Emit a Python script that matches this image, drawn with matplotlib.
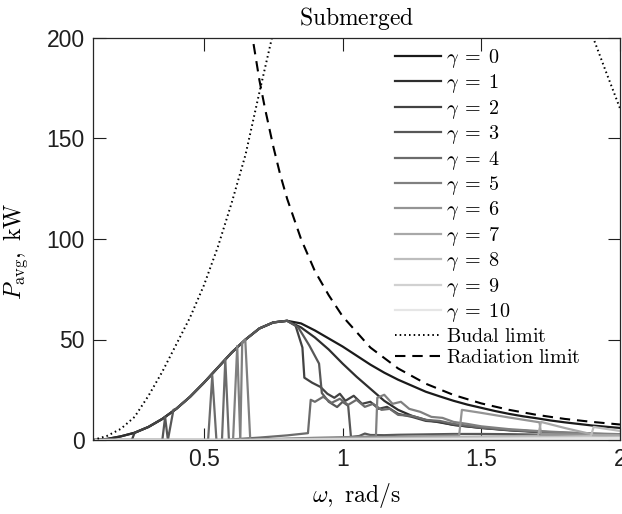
import numpy as np
import matplotlib
matplotlib.use('Agg')
import matplotlib.pyplot as plt

plt.rcParams['mathtext.fontset'] = 'cm'
plt.rcParams['font.family'] = ['Liberation Sans', 'DejaVu Sans']

# ---- data ----
omega_env = [0.10, 0.15, 0.20, 0.25, 0.30, 0.35, 0.40, 0.45, 0.50, 0.55, 0.60, 0.65,
             0.70, 0.75, 0.80, 0.85, 0.90, 0.95, 1.00, 1.05, 1.10, 1.15, 1.20, 1.25,
             1.30, 1.35, 1.40, 1.45, 1.50, 1.55, 1.60, 1.65, 1.70, 1.75, 1.80, 1.85,
             1.90, 1.95, 2.00]
p_gamma0 = [0.0, 0.5, 1.8, 3.6, 6.5, 10.5, 15.5, 21.5, 28.5, 36.0, 43.5, 50.0,
            55.5, 58.5, 59.3, 58.0, 54.5, 50.5, 46.5, 42.0, 37.5, 33.5, 30.0, 27.0,
            24.0, 21.7, 19.5, 17.6, 16.0, 14.4, 13.0, 11.8, 10.8, 9.7, 8.8, 8.0,
            7.2, 6.6, 6.0]

g1_w = [0.85, 0.90, 0.95, 1.00, 1.05, 1.10, 1.15, 1.20, 1.25, 1.30, 1.40, 1.50, 1.60,
        1.70, 1.80, 1.90, 2.00]
g1_p = [56, 51, 45, 38, 31.5, 25.5, 19.5, 15, 12, 10, 7.5, 6, 4.8, 4, 3.3, 2.8, 2.4]

g2_w = [0.83, 0.855, 0.862, 0.89, 0.92, 0.945, 0.97, 0.99, 1.01, 1.04, 1.07, 1.10,
        1.13, 1.16, 1.20, 1.25, 1.30, 1.35, 1.40, 1.50, 1.60, 1.70, 1.80, 1.90, 2.00]
g2_p = [57, 46, 31, 28.5, 26.4, 23, 21, 23, 19.5, 22, 18, 19, 15.5, 16.5, 13, 11.5,
        9.5, 9, 7.5, 6, 5, 4.2, 3.5, 3, 2.6]

g3_w = [0.84, 0.88, 0.915, 0.925, 0.95, 0.98, 1.00, 1.02, 1.03, 1.06, 1.08, 1.10,
        1.15, 1.20, 1.30, 1.40, 1.50, 1.60, 1.70, 1.80, 1.90, 2.00]
g3_p = [56, 47, 38, 23.4, 19, 16.4, 19, 17, 1.5, 2, 3.2, 2.5, 2.4, 2.6, 2.8, 3.0,
        3.0, 2.9, 2.7, 2.5, 2.3, 2.1]

g4_w = [0.10, 0.515, 0.53, 0.545, 0.565, 0.577, 0.59, 0.60, 0.70, 0.80, 0.875,
        0.885, 0.90, 0.93, 0.96, 0.99, 1.02, 1.05, 1.08, 1.11, 1.14, 1.17, 1.20,
        1.25, 1.30, 1.35, 1.40, 1.50, 1.60, 1.70, 1.80, 1.90, 2.00]
g4_p = [0, 0, 32, 0, 0, 40, 0, 0.3, 1.2, 2.3, 3.4, 20, 19, 21.5, 18.5, 20.5, 17.5,
        20, 16.5, 18, 15, 15.5, 12.5, 12, 10, 9.5, 8, 6.2, 5, 4.2, 3.6, 3.1, 2.7]

g5_w = [0.10, 0.605, 0.62, 0.631, 0.638, 0.649, 0.667, 0.70, 0.80, 0.90, 1.00, 1.10,
        1.12, 1.125, 1.15, 1.18, 1.21, 1.24, 1.28, 1.32, 1.36, 1.40, 1.45, 1.50,
        1.60, 1.70, 1.80, 1.90, 2.00]
g5_p = [0, 0, 46.8, 0, 48.5, 49.8, 0, 0.3, 0.7, 1.1, 1.4, 1.7, 1.8, 21, 22.5, 18,
        19, 15.5, 14, 11.5, 11, 9, 8, 6.8, 5.4, 4.5, 3.8, 3.3, 2.9]

g6_w = [0.10, 0.667, 0.80, 1.00, 1.20, 1.42, 1.43, 1.50, 1.60, 1.71, 1.715, 1.80,
        1.90, 2.00]
g6_p = [0, 0, 0.5, 1.0, 1.6, 2.2, 15, 13.5, 11.2, 8.8, 3.0, 2.8, 2.6, 2.4]

g7_w = [0.10, 0.667, 0.80, 1.00, 1.30, 1.60, 1.705, 1.715, 1.80, 1.90, 1.905, 2.00]
g7_p = [0, 0, 0.3, 0.7, 1.3, 1.9, 2.1, 9, 6, 2.8, 2.4, 2.2]

g8_w = [0.10, 0.667, 0.80, 1.00, 1.30, 1.60, 1.895, 1.905, 2.00]
g8_p = [0, 0, 0.2, 0.5, 1.0, 1.5, 1.9, 6.5, 4.5]

g9_w = [0.10, 0.667, 1.00, 1.50, 2.00]
g9_p = [0, 0, 0.3, 0.8, 1.3]

g10_w = [0.10, 0.667, 1.00, 1.50, 2.00]
g10_p = [0, 0, 0.2, 0.5, 0.9]

budal_left_w = [0.10, 0.125, 0.15, 0.20, 0.25, 0.30, 0.35, 0.40, 0.45, 0.50, 0.55,
                0.60, 0.65, 0.70, 0.75]
budal_left_p = [0, 1.0, 2.0, 5.5, 11.5, 22, 34, 47.5, 61, 77, 96, 118, 142, 173, 203]
budal_right_w = [1.89, 1.95, 2.00]
budal_right_p = [205, 183, 165]

rad_w = [0.66, 0.68, 0.70, 0.72, 0.75, 0.775, 0.80, 0.85, 0.90, 0.95, 1.00, 1.10,
         1.20, 1.30, 1.40, 1.50, 1.60, 1.70, 1.80, 1.90, 2.00]
rad_p = [214, 196, 179, 165, 146, 132, 120, 100, 84, 72, 61.5, 46, 35.6, 28, 22.4,
         18.2, 15, 12.5, 10.5, 9.0, 7.7]

gammas = list(range(11))


def env_part(lo, hi):
    pts = [(w, p) for w, p in zip(omega_env, p_gamma0) if lo - 1e-9 <= w <= hi + 1e-9]
    return [a for a, _ in pts], [b for _, b in pts]


curves = []
curves.append((omega_env, p_gamma0))
ew, ep = env_part(0.10, 0.80)
curves.append((ew + g1_w, ep + g1_p))
ew, ep = env_part(0.25, 0.80)
curves.append(([0.10, 0.24] + ew + g2_w, [0, 0] + ep + g2_p))
ew, ep = env_part(0.40, 0.80)
curves.append(([0.10, 0.35, 0.36, 0.37, 0.39] + ew + g3_w,
               [0, 0, 11.4, 0, 15] + ep + g3_p))
curves.append((g4_w, g4_p))
curves.append((g5_w, g5_p))
curves.append((g6_w, g6_p))
curves.append((g7_w, g7_p))
curves.append((g8_w, g8_p))
curves.append((g9_w, g9_p))
curves.append((g10_w, g10_p))

greys = np.linspace(0.1, 0.9, len(gammas))

fig = plt.figure(figsize=(6.22, 5.14), dpi=100)
ax = fig.add_axes([93 / 622, 74 / 514, 527 / 622, 402 / 514])

for g, (w, p), c in zip(gammas, curves, greys):
    ax.plot(w, p, color=str(c), lw=1.6, label=r'$\gamma\;=\;%d$' % g)

ax.plot(budal_left_w, budal_left_p, color='k', lw=1.4, linestyle=(0, (0.8, 1.6)),
        label=r'$\mathrm{Budal\ limit}$')
ax.plot(budal_right_w, budal_right_p, color='k', lw=1.4, linestyle=(0, (0.8, 1.6)))
ax.plot(rad_w, rad_p, color='k', lw=1.5, dashes=(5, 3.3),
        label=r'$\mathrm{Radiation\ limit}$')

ax.set_xlim(0.1, 2.0)
ax.set_ylim(0, 200)
ax.set_xticks([0.5, 1.0, 1.5, 2.0])
ax.set_xticklabels(['0.5', '1', '1.5', '2'])
ax.set_yticks([0, 50, 100, 150, 200])
ax.set_yticklabels(['0', '50', '100', '150', '200'])
ax.tick_params(direction='in', length=9, width=0.8, top=True, right=True,
               labelsize=16.5, colors='0.12', pad=6)
for s in ax.spines.values():
    s.set_color('0.15')
    s.set_linewidth(0.9)

ax.set_title(r'$\mathrm{Submerged}$', fontsize=17, pad=9)
ax.set_xlabel(r'$\omega,\ \mathrm{rad/s}$', fontsize=17, labelpad=7)
ax.set_ylabel(r'$P_{\mathrm{avg}},\ \mathrm{kW}$', fontsize=17)
ax.yaxis.set_label_coords(-0.12, 0.47)

leg = ax.legend(loc='upper left', bbox_to_anchor=(395 / 622, 1 - 47 / 514),
                bbox_transform=fig.transFigure, frameon=False, fontsize=14.5,
                handlelength=2.3, handletextpad=0.25, labelspacing=0.12,
                borderpad=0, borderaxespad=0)

fig.savefig('out.png', dpi=100)
